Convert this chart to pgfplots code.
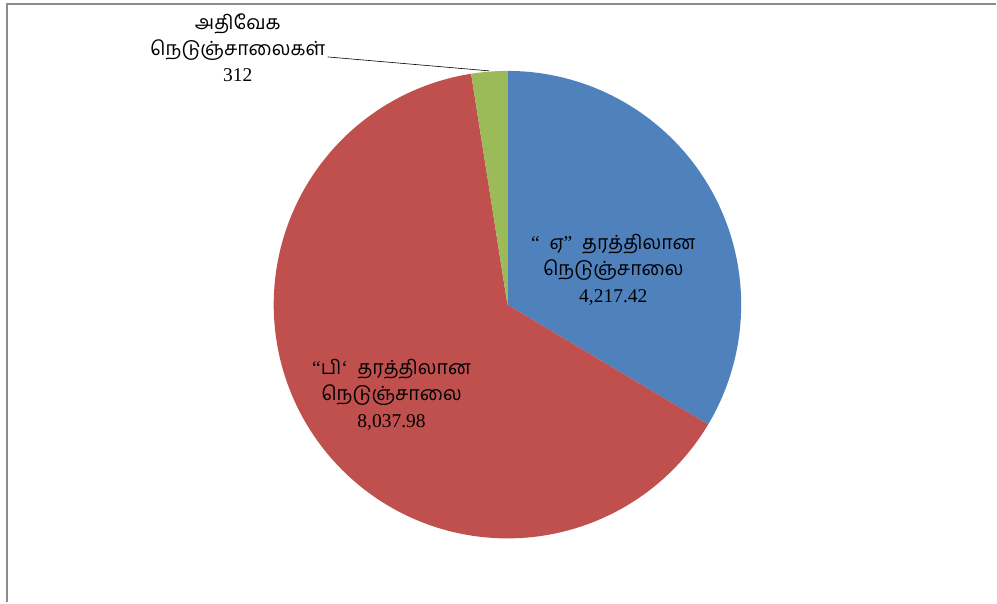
\documentclass[border=0pt]{standalone}
\usepackage{fontspec}
\setmainfont{Liberation Serif}
\newfontfamily\tamil[Script=Tamil]{Hind Madurai}
\usepackage{pgfplots}
\pgfplotsset{compat=1.18}
\definecolor{sA}{HTML}{4F81BD}
\definecolor{sB}{HTML}{C0504D}
\definecolor{sC}{HTML}{9BBB59}
\definecolor{frame}{HTML}{8C8C8C}
\begin{document}
\begin{tikzpicture}
\pgfmathsetmacro{\va}{4217.42}
\pgfmathsetmacro{\vb}{8037.98}
\pgfmathsetmacro{\vc}{312}
\pgfmathsetmacro{\tot}{\va+\vb+\vc}
\pgfmathsetmacro{\aA}{90-360*(\va/\tot)}
\pgfmathsetmacro{\aB}{\aA-360*(\vb/\tot)}
\pgfmathsetmacro{\aC}{\aB-360*(\vc/\tot)}
\begin{axis}[
  x=1pt, y=1pt,
  xmin=0, xmax=997, ymin=0, ymax=603,
  hide axis, clip=false,
  axis line style={draw=none},
]
\fill[white] (axis cs:0,0) rectangle (axis cs:997,603);
% slices (center 508,298  radius 234)
\addplot[draw=none, fill=sA, domain=\aA:90, samples=120]
  ({508+234*cos(x)},{298+234*sin(x)}) -- (axis cs:508,298) -- cycle;
\addplot[draw=none, fill=sB, domain=\aB:\aA, samples=200]
  ({508+234*cos(x)},{298+234*sin(x)}) -- (axis cs:508,298) -- cycle;
\addplot[draw=none, fill=sC, domain=\aC:\aB, samples=20]
  ({508+234*cos(x)},{298+234*sin(x)}) -- (axis cs:508,298) -- cycle;
% frame
\addplot[frame, line width=2.2pt] coordinates {(7,0) (7,599) (997,599)};
% leader line
\addplot[black, line width=0.6pt] coordinates {(328,546) (490,532)};
% labels
\node[align=center, font=\fontsize{19.5}{26}\selectfont, inner sep=0pt] at (axis cs:238,555)
  {{\tamil அதிவேக}\\{\tamil நெடுஞ்சாலைகள்}\\312};
\node[align=center, font=\fontsize{19.5}{26.5}\selectfont, inner sep=0pt] at (axis cs:614,333)
  {“\ \ {\tamil ஏ}”\ \ {\tamil தரத்திலான}\\{\tamil நெடுஞ்சாலை}\\4,217.42};
\node[align=center, font=\fontsize{19.5}{26.5}\selectfont, inner sep=0pt] at (axis cs:392,208)
  {“{\tamil பி}‘\ \ {\tamil தரத்திலான}\\{\tamil நெடுஞ்சாலை}\\8,037.98};
\end{axis}
\end{tikzpicture}
\end{document}
